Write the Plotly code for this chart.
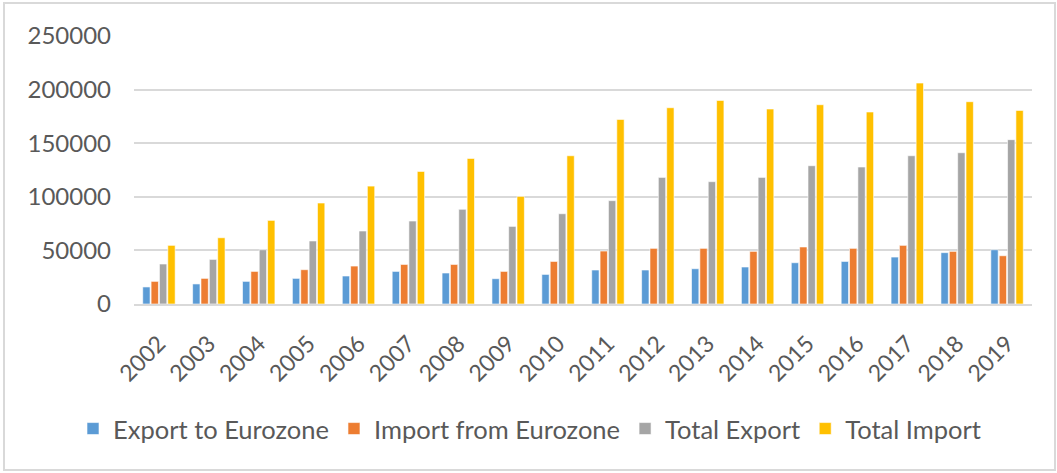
import plotly.graph_objects as go

years = [str(y) for y in range(2002, 2020)]
export_eurozone = [15900, 18700, 21100, 23900, 26100, 30400, 28900, 23600, 27600,
                   31700, 31700, 32900, 34500, 38500, 39700, 43800, 47900, 50600]
import_eurozone = [21100, 23900, 30400, 32000, 35400, 36900, 36900, 30400, 39700,
                   49400, 51900, 51900, 49100, 53200, 51900, 54700, 49100, 45000]
total_export = [37300, 41600, 50600, 58800, 68100, 77400, 88300, 72400, 84200,
                96400, 118100, 114100, 118100, 129000, 127800, 138300, 141100, 153300]
total_import = [54700, 61800, 78000, 94200, 110000, 123700, 135800, 100400, 138300,
                172200, 183100, 189900, 181900, 185900, 179100, 206100, 188700, 180600]
y_ticks = [0, 50000, 100000, 150000, 200000, 250000]

series = [
    ("Export to Eurozone", export_eurozone, "#5B9BD5"),
    ("Import from Eurozone", import_eurozone, "#ED7D31"),
    ("Total Export", total_export, "#A5A5A5"),
    ("Total Import", total_import, "#FFC000"),
]

fig = go.Figure()
for name, vals, color in series:
    fig.add_trace(go.Bar(x=years, y=vals, name=name,
                         marker=dict(color=color, line=dict(color="white", width=0.6))))

W, H = 1057, 473
L, R, T, B = 134, 25, 36, 169
pw, ph = W - L - R, H - T - B

def px_x(x):
    return (x - L) / pw

def px_y(y):
    return (H - B - y) / ph

font_color = "#595959"
fig.update_layout(
    width=W, height=H,
    margin=dict(l=L, r=R, t=T, b=B),
    paper_bgcolor="white", plot_bgcolor="white",
    barmode="group", bargap=0.33, bargroupgap=0.12,
    font=dict(family="Lato", color=font_color),
    showlegend=True,
    legend=dict(orientation="h", x=px_x(73), xanchor="left", y=px_y(429), yanchor="middle",
                font=dict(size=25.5, color=font_color), traceorder="normal",
                bgcolor="rgba(0,0,0,0)"),
    shapes=[dict(type="rect", xref="paper", yref="paper",
                 x0=px_x(4), x1=px_x(1055), y0=px_y(470), y1=px_y(3),
                 line=dict(color="#D9D9D9", width=2), fillcolor="rgba(0,0,0,0)", layer="below")],
)
fig.update_xaxes(tickangle=-45, tickfont=dict(size=23, color=font_color),
                 showgrid=False, showline=True, linecolor="#D9D9D9", linewidth=2,
                 ticks="", ticklabelstandoff=15)
fig.update_yaxes(range=[0, 250000], tickvals=y_ticks, ticktext=[str(v) for v in y_ticks],
                 tickfont=dict(size=24, color=font_color),
                 showgrid=True, gridcolor="#D9D9D9", gridwidth=2, zeroline=False,
                 showline=False, ticks="", ticklabelstandoff=22)

fig.write_html("out.html")
